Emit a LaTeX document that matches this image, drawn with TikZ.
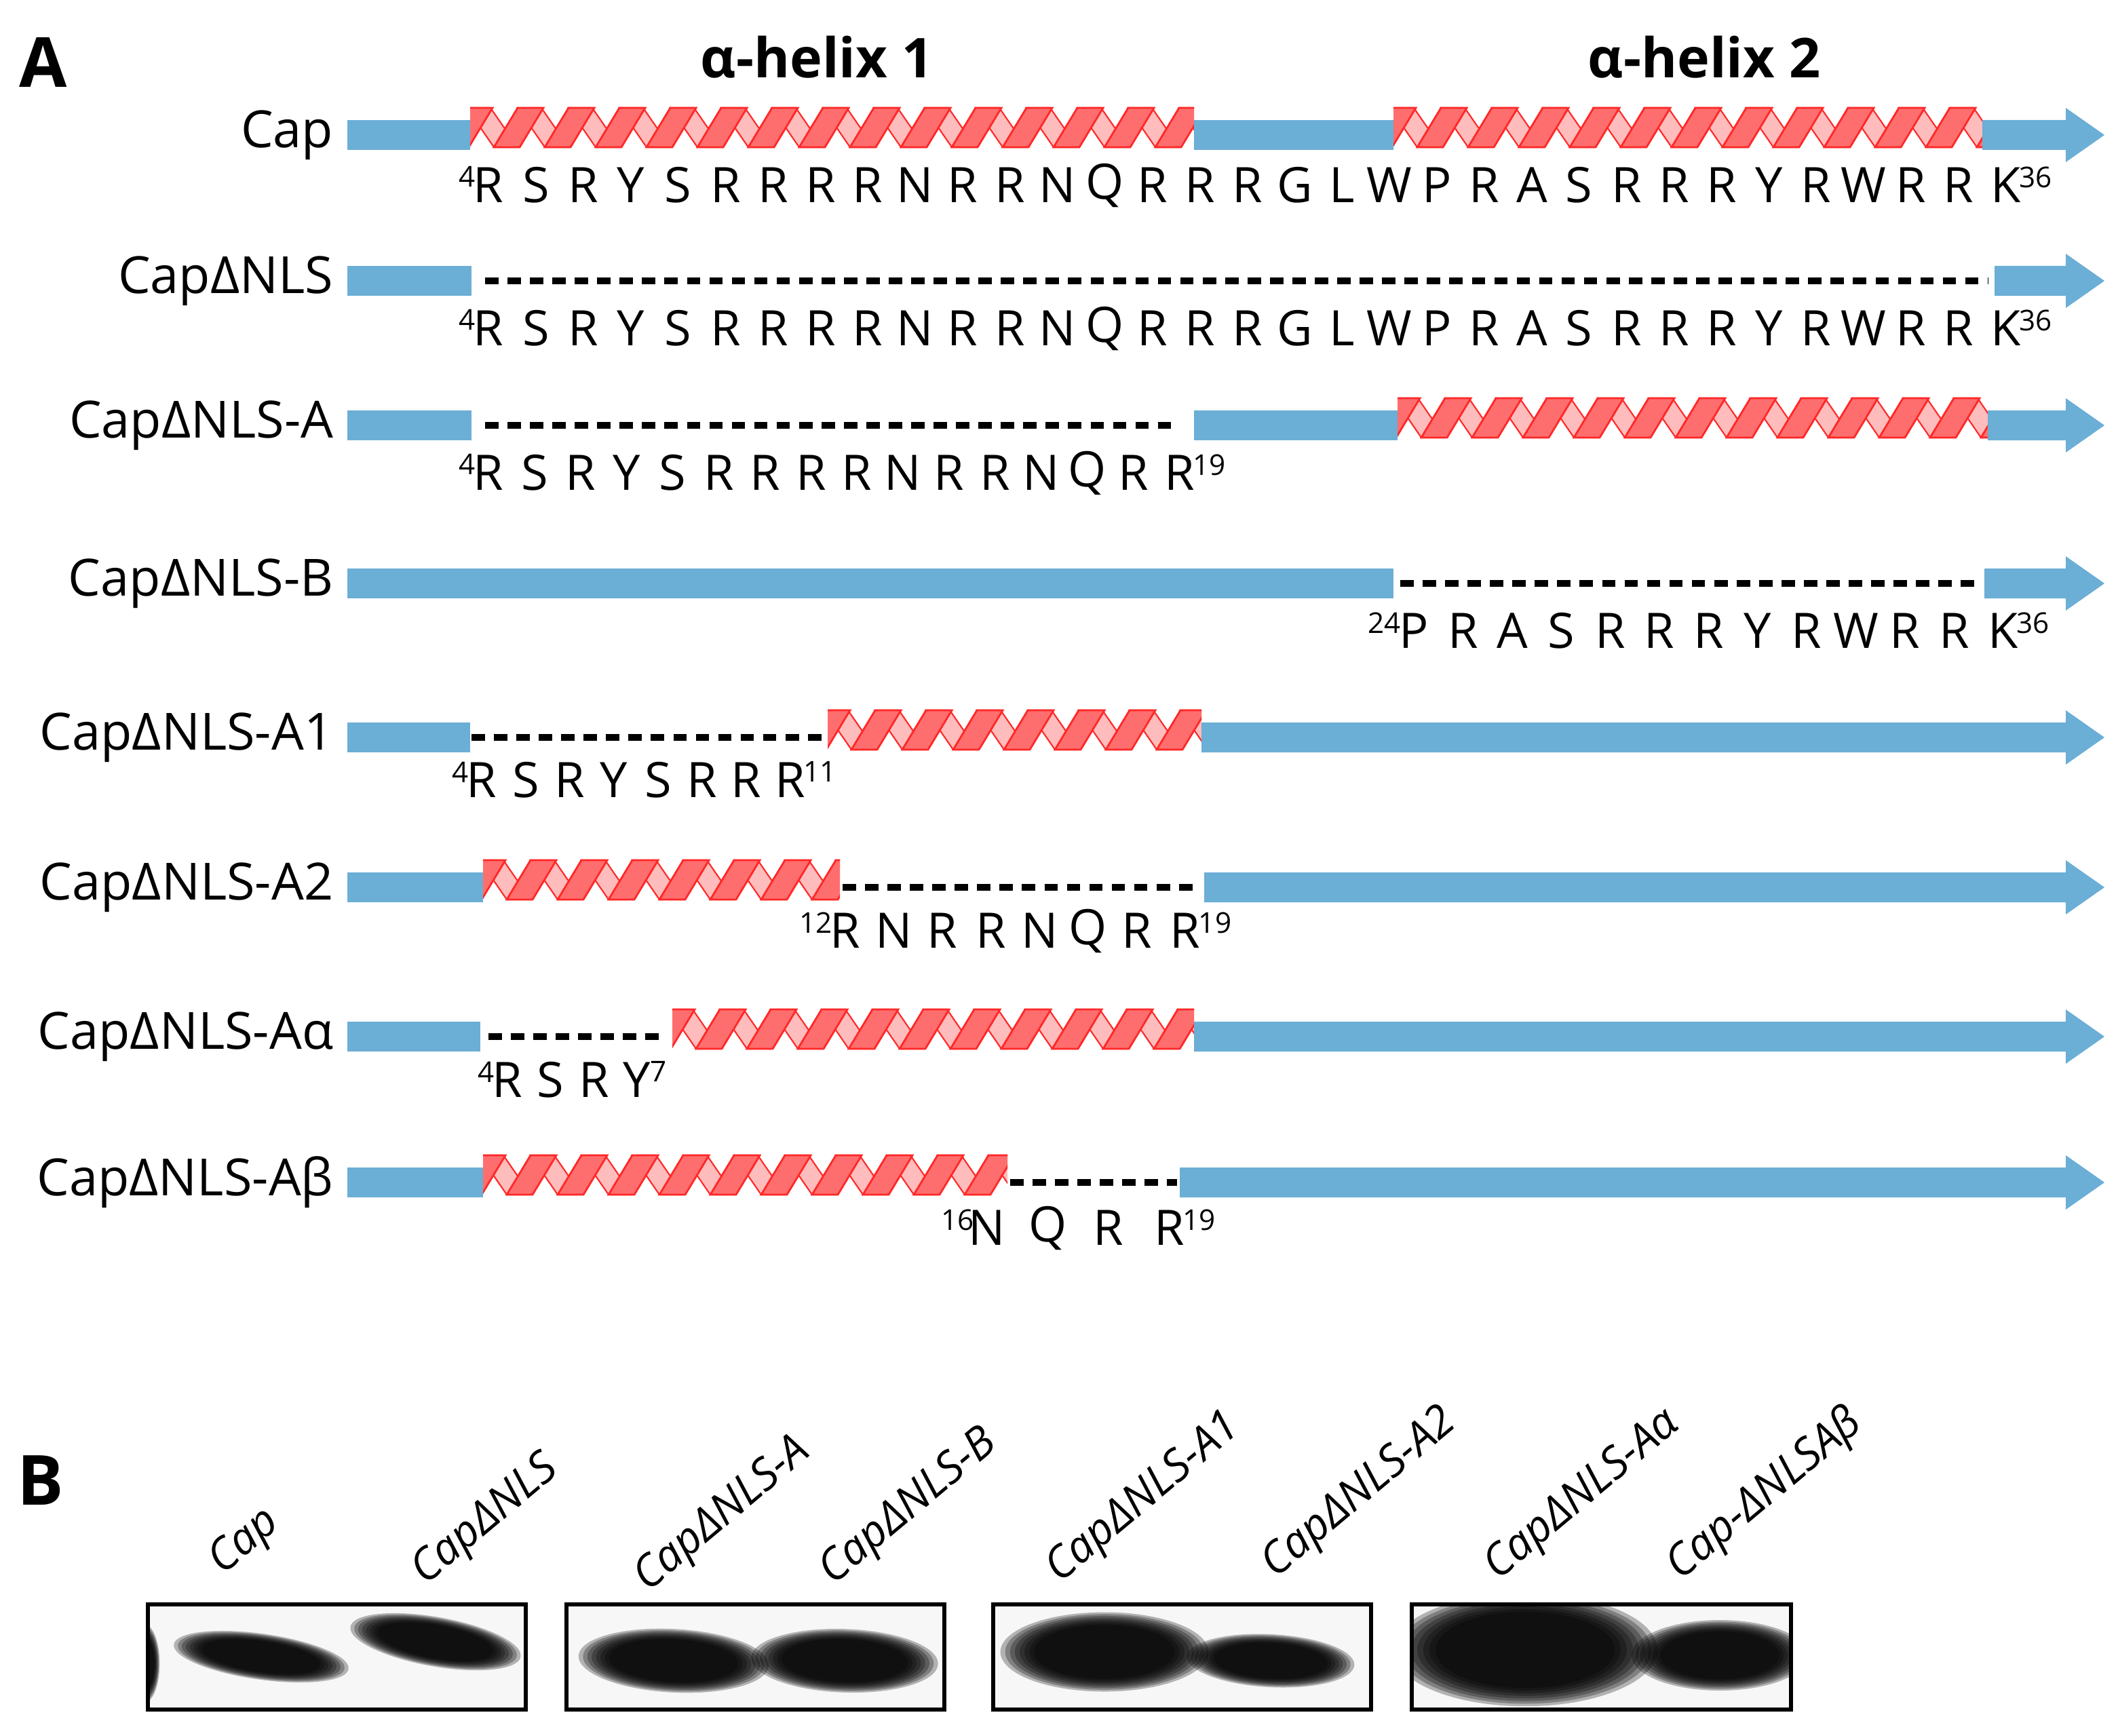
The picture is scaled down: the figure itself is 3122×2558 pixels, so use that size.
\documentclass[tikz,border=0pt]{standalone}
\usepackage{fontspec}
\setmainfont{Open Sans}
\begin{document}
\definecolor{barblue}{RGB}{107,174,214}
\definecolor{hxdark}{RGB}{255,110,110}
\definecolor{hxlight}{RGB}{255,188,188}
\definecolor{hxline}{RGB}{255,40,40}
\tikzset{
  lab/.style={anchor=east,font=\fontsize{21.5}{25}\selectfont,inner sep=0pt},
  res/.style={font=\fontsize{20.5}{24}\selectfont,inner sep=0pt},
  sup/.style={font=\fontsize{12}{14}\selectfont,inner sep=0pt},
  dashline/.style={line width=2.8pt,dash pattern=on 5.6pt off 3.8pt},
  lane/.style={font=\itshape\fontsize{18.5}{21}\selectfont,rotate=40,anchor=south west,inner sep=0pt},
  blotbox/.style={line width=1.8pt,draw=black}
}
\newcommand{\bluebar}[3]{\fill[barblue] (#1,#3-22) rectangle (#2,#3+22);}
\newcommand{\bluearrow}[2]{\fill[barblue] (#1,#2-22) -- (3045,#2-22) -- (3045,#2-40) -- (3102,#2) -- (3045,#2+40) -- (3045,#2+22) -- (#1,#2+22) -- cycle;}
\newcommand{\helix}[3]{%
  \begin{scope}
  \clip (#1,#3-44) rectangle (#2,#3+21);
  \pgfmathtruncatemacro{\nper}{(#2-#1)/75+1}
  \foreach \k in {0,...,\nper}{
    \pgfmathsetmacro{\xa}{#1+\k*75-40}
    \filldraw[fill=hxlight,draw=hxline,line width=0.6pt] (\xa+35,#3-40) -- (\xa+70,#3-40) -- (\xa+110,#3+18) -- (\xa+75,#3+18) -- cycle;
  }
  \foreach \k in {0,...,\nper}{
    \pgfmathsetmacro{\xa}{#1+\k*75-40}
    \filldraw[fill=hxdark,draw=hxline,line width=0.8pt] (\xa,#3+18) -- (\xa+38,#3+18) -- (\xa+73,#3-40) -- (\xa+35,#3-40) -- cycle;
  }
  \end{scope}}
\newcommand{\seqrow}[8]{%
  \foreach \L [count=\i from 0] in {#8}{
    \node[res] (#1-\i) at (#2+\i*#3,#4) {\L};
  }
  \node[sup,anchor=north east] (#1-s) at (#2-19,#4-28) {#5};
  \node[sup,anchor=north west] (#1-e) at (#2+#7*#3+19,#4-28) {#6};}
\begin{tikzpicture}[x=0.01cm,y=-0.01cm]
\useasboundingbox (0,0) rectangle (3122,2558);
\node[font=\bfseries\fontsize{29}{32}\selectfont] (A) at (64,92) {A};
\node[font=\bfseries\fontsize{23}{26}\selectfont] (h1) at (1204,84) {α-helix 1};
\node[font=\bfseries\fontsize{23}{26}\selectfont] (h2) at (2512,84) {α-helix 2};
% Cap
\node[lab] (l1) at (492,199) {Cap};
\bluebar{512}{693}{199}
\helix{693}{1760}{199}
\bluebar{1760}{2054}{199}
\helix{2054}{2922}{199}
\bluearrow{2922}{199}
\seqrow{s1}{720}{69.9}{273}{4}{36}{32}{R,S,R,Y,S,R,R,R,R,N,R,R,N,Q,R,R,R,G,L,W,P,R,A,S,R,R,R,Y,R,W,R,R,K}
% dNLS
\node[lab] (l2) at (492,414) {CapΔNLS};
\bluebar{512}{695}{414}
\draw[dashline] (715,414) -- (2930,414);
\bluearrow{2940}{414}
\seqrow{s2}{720}{69.9}{484}{4}{36}{32}{R,S,R,Y,S,R,R,R,R,N,R,R,N,Q,R,R,R,G,L,W,P,R,A,S,R,R,R,Y,R,W,R,R,K}
% A
\node[lab] (l3) at (492,627) {CapΔNLS-A};
\bluebar{512}{695}{627}
\draw[dashline] (715,627) -- (1735,627);
\bluebar{1760}{2060}{627}
\helix{2060}{2930}{627}
\bluearrow{2930}{627}
\seqrow{s3}{720}{67.9}{697}{4}{19}{15}{R,S,R,Y,S,R,R,R,R,N,R,R,N,Q,R,R}
% B
\node[lab] (l4) at (492,860) {CapΔNLS-B};
\bluebar{512}{2054}{860}
\draw[dashline] (2064,860) -- (2912,860);
\bluearrow{2925}{860}
\seqrow{s4}{2084}{72.4}{930}{24}{36}{12}{P,R,A,S,R,R,R,Y,R,W,R,R,K}
% A1
\node[lab] (l5) at (492,1087) {CapΔNLS-A1};
\bluebar{512}{693}{1087}
\draw[dashline] (695,1087) -- (1214,1087);
\helix{1220}{1771}{1087}
\bluearrow{1771}{1087}
\seqrow{s5}{710}{65}{1150}{4}{11}{7}{R,S,R,Y,S,R,R,R}
% A2
\node[lab] (l6) at (492,1308) {CapΔNLS-A2};
\bluebar{512}{712}{1308}
\helix{712}{1238}{1308}
\draw[dashline] (1242,1308) -- (1763,1308);
\bluearrow{1775}{1308}
\seqrow{s6}{1246}{71.6}{1372}{12}{19}{7}{R,N,R,R,N,Q,R,R}
% Aalpha
\node[lab] (l7) at (492,1528) {CapΔNLS-Aα};
\bluebar{512}{708}{1528}
\draw[dashline] (720,1528) -- (975,1528);
\helix{991}{1760}{1528}
\bluearrow{1760}{1528}
\seqrow{s7}{748}{63.7}{1592}{4}{7}{3}{R,S,R,Y}
% Abeta
\node[lab] (l8) at (492,1743) {CapΔNLS-Aβ};
\bluebar{512}{712}{1743}
\helix{712}{1485}{1743}
\draw[dashline] (1489,1743) -- (1735,1743);
\bluearrow{1739}{1743}
\seqrow{s8}{1455}{89.5}{1810}{16}{19}{3}{N,Q,R,R}
% Panel B
\node[font=\bfseries\fontsize{29}{32}\selectfont] (B) at (60,2182) {B};
\node[lane] (t1) at (338,2335) {Cap};
\node[lane] (t2) at (637,2350) {CapΔNLS};
\node[lane] (t3) at (965,2360) {CapΔNLS-A};
\node[lane] (t4) at (1238,2350) {CapΔNLS-B};
\node[lane] (t5) at (1572,2347) {CapΔNLS-A1};
\node[lane] (t6) at (1890,2340) {CapΔNLS-A2};
\node[lane] (t7) at (2218,2343) {CapΔNLS-Aα};
\node[lane] (t8) at (2487,2343) {Cap-ΔNLSAβ};
\newcommand{\band}[5]{%
  \foreach \s in {1.3,1.24,1.18,1.12,1.06,1.0,0.94,0.88}{
    \fill[black,opacity=0.28,rotate around={#5:(#1,#2)}] (#1,#2) ellipse ({#3*\s} and {#4*\s});
  }}
\begin{scope}
\clip (215,2362) rectangle (772,2517);
\fill[gray!6] (215,2362) rectangle (772,2517);
\band{385}{2442}{100}{26}{-8}
\band{642}{2420}{98}{28}{-10}
\band{212}{2452}{18}{45}{0}
\end{scope}
\node[blotbox,minimum width=557*0.01cm,minimum height=155*0.01cm,anchor=north west] (b1) at (215,2362) {};
\begin{scope}
\clip (832,2362) rectangle (1389,2517);
\fill[gray!6] (832,2362) rectangle (1389,2517);
\band{993}{2448}{108}{36}{-3}
\band{1245}{2448}{106}{36}{-2}
\end{scope}
\node[blotbox,minimum width=557*0.01cm,minimum height=155*0.01cm,anchor=north west] (b2) at (832,2362) {};
\begin{scope}
\clip (1461,2362) rectangle (2018,2517);
\fill[gray!6] (1461,2362) rectangle (2018,2517);
\band{1628}{2435}{118}{45}{0}
\band{1873}{2448}{95}{30}{-3}
\end{scope}
\node[blotbox,minimum width=557*0.01cm,minimum height=155*0.01cm,anchor=north west] (b3) at (1461,2362) {};
\begin{scope}
\clip (2078,2362) rectangle (2637,2517);
\fill[gray!6] (2078,2362) rectangle (2637,2517);
\band{2248}{2432}{150}{64}{0}
\band{2535}{2440}{100}{40}{0}
\end{scope}
\node[blotbox,minimum width=559*0.01cm,minimum height=155*0.01cm,anchor=north west] (b4) at (2078,2362) {};
\end{tikzpicture}
\end{document}
